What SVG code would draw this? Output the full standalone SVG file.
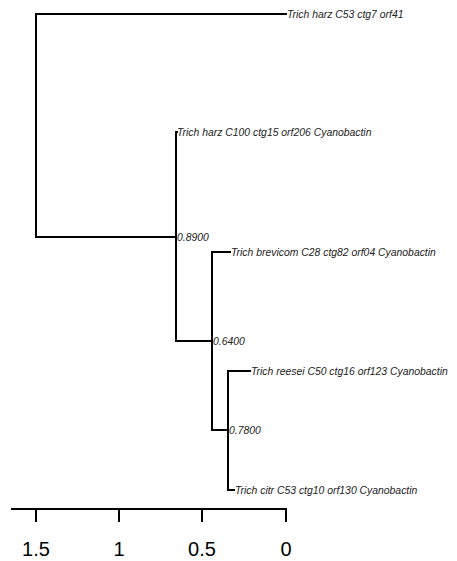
<svg xmlns="http://www.w3.org/2000/svg" width="457" height="561" viewBox="0 0 457 561">
<style>
.e{fill:none;stroke:#000;stroke-width:2;stroke-linecap:square}
.t{font-family:"Liberation Sans",Arial,sans-serif;font-style:italic;font-size:10.4px;fill:#222}
.a{font-family:"Liberation Sans",Arial,sans-serif;font-size:20px;fill:#000;text-anchor:middle}
</style>
<rect width="457" height="561" fill="#fff"/>
<g id="edges">
<path class="e" d="M286 14H36V237H176"/>
<path class="e" d="M176 237V132H177"/>
<path class="e" d="M176 237V341H212"/>
<path class="e" d="M212 341V252H230"/>
<path class="e" d="M212 341V430H228"/>
<path class="e" d="M228 430V371H250"/>
<path class="e" d="M228 430V490H234"/>
</g>
<g id="tip1"><text class="t" x="287" y="18">Trich harz C53 ctg7 orf41</text></g>
<g id="tip2"><text class="t" x="177" y="136">Trich harz C100 ctg15 orf206 Cyanobactin</text></g>
<g id="node089"><text class="t" x="177" y="241">0.8900</text></g>
<g id="tip3"><text class="t" x="231" y="256">Trich brevicom C28 ctg82 orf04 Cyanobactin</text></g>
<g id="node064"><text class="t" x="213" y="345">0.6400</text></g>
<g id="tip4"><text class="t" x="251" y="375">Trich reesei C50 ctg16 orf123 Cyanobactin</text></g>
<g id="node078"><text class="t" x="229" y="434">0.7800</text></g>
<g id="tip5"><text class="t" x="235" y="494">Trich citr C53 ctg10 orf130 Cyanobactin</text></g>
<g id="axis">
<path class="e" d="M12 509H286M36 509V521M119 509V521M202 509V521M286 509V521"/>
<text class="a" x="36" y="556">1.5</text>
<text class="a" x="119" y="556">1</text>
<text class="a" x="202" y="556">0.5</text>
<text class="a" x="286" y="556">0</text>
</g>
</svg>
